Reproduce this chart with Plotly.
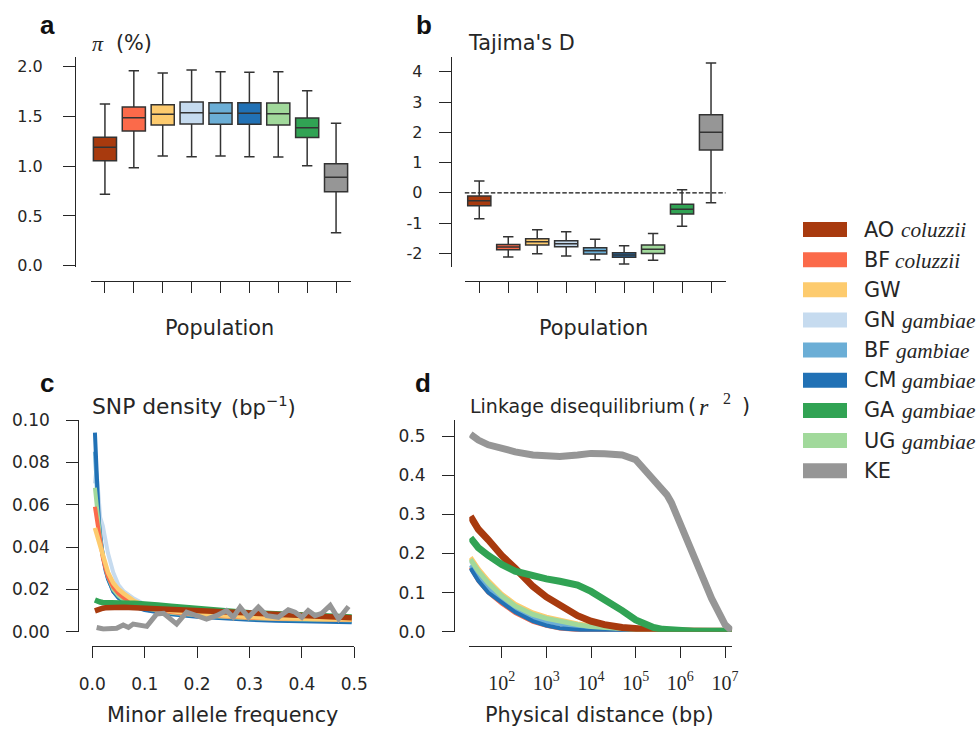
import plotly.graph_objects as go

W, H = 977, 731

# ---------------- data ----------------
pop_codes = ["AOcol", "BFcol", "GW", "GNgam", "BFgam", "CMgam", "GAgam", "UGgam", "KE"]
pop_prefix = ["AO", "BF", "GW", "GN", "BF", "CM", "GA", "UG", "KE"]
pop_species = ["coluzzii", "coluzzii", "", "gambiae", "gambiae", "gambiae", "gambiae", "gambiae", ""]
pop_colors = ["#a83a0e", "#fb6a4a", "#fdcb6e", "#c6dbef", "#6baed6", "#2171b5", "#31a354", "#a1d99b", "#969696"]
color_of = dict(zip(pop_codes, pop_colors))

# panel a/b box order
box_order = ["AOcol", "BFcol", "GW", "GNgam", "BFgam", "CMgam", "UGgam", "GAgam", "KE"]

pi_lower = [0.717, 0.985, 1.102, 1.095, 1.102, 1.095, 1.092, 1.005, 0.332]
pi_q1 = [1.055, 1.354, 1.414, 1.424, 1.421, 1.421, 1.414, 1.287, 0.744]
pi_median = [1.19, 1.487, 1.521, 1.538, 1.532, 1.532, 1.528, 1.387, 0.888]
pi_q3 = [1.29, 1.595, 1.618, 1.645, 1.638, 1.638, 1.635, 1.485, 1.025]
pi_upper = [1.625, 1.96, 1.937, 1.967, 1.95, 1.944, 1.95, 1.759, 1.431]

td_lower = [-0.855, -2.12, -2.01, -2.09, -2.21, -2.35, -2.23, -1.107, -0.327]
td_q1 = [-0.425, -1.88, -1.725, -1.78, -2.02, -2.13, -2.0, -0.70, 1.414]
td_median = [-0.26, -1.79, -1.615, -1.68, -1.91, -2.055, -1.865, -0.545, 2.0]
td_q3 = [-0.106, -1.71, -1.516, -1.58, -1.81, -1.98, -1.725, -0.38, 2.58]
td_upper = [0.39, -1.45, -1.22, -1.285, -1.535, -1.745, -1.34, 0.10, 4.29]

# panel c: SNP density vs minor allele frequency
maf = [0.005, 0.0075, 0.01, 0.0125, 0.015, 0.02, 0.025, 0.03, 0.04, 0.05, 0.06, 0.07,
       0.08, 0.1, 0.125, 0.15, 0.2, 0.25, 0.3, 0.35, 0.4, 0.45, 0.495]
sfs = {
    "GNgam": [0.070, 0.076, 0.070, 0.060, 0.054, 0.050, 0.043, 0.037, 0.028, 0.022, 0.019, 0.017,
              0.0155, 0.013, 0.0112, 0.0100, 0.0085, 0.0075, 0.0068, 0.0063, 0.0060, 0.0058, 0.0057],
    "BFgam": [0.085, 0.072, 0.058, 0.050, 0.044, 0.035, 0.029, 0.025, 0.019, 0.016, 0.0145, 0.013,
              0.012, 0.0105, 0.0094, 0.0085, 0.0074, 0.0066, 0.0060, 0.0055, 0.0051, 0.0049, 0.0048],
    "CMgam": [0.094, 0.080, 0.062, 0.052, 0.046, 0.036, 0.030, 0.025, 0.019, 0.016, 0.0142, 0.0128,
              0.0118, 0.0102, 0.0090, 0.0082, 0.0070, 0.0062, 0.0056, 0.0052, 0.0049, 0.0046, 0.0045],
    "UGgam": [0.068, 0.062, 0.055, 0.049, 0.044, 0.036, 0.030, 0.026, 0.020, 0.017, 0.015, 0.0135,
              0.0125, 0.011, 0.0098, 0.0090, 0.0078, 0.0070, 0.0064, 0.0060, 0.0057, 0.0055, 0.0054],
    "BFcol": [0.059, 0.055, 0.050, 0.046, 0.042, 0.035, 0.030, 0.026, 0.021, 0.018, 0.016, 0.0145,
              0.013, 0.0115, 0.0102, 0.0093, 0.0080, 0.0072, 0.0066, 0.0062, 0.0059, 0.0057, 0.0056],
    "GW":    [0.049, 0.047, 0.045, 0.043, 0.041, 0.036, 0.032, 0.028, 0.023, 0.020, 0.018, 0.016,
              0.0145, 0.0125, 0.0110, 0.0098, 0.0084, 0.0075, 0.0069, 0.0064, 0.0061, 0.0059, 0.0058],
    "GAgam": [0.0150, 0.0146, 0.0143, 0.0141, 0.0140, 0.0138, 0.0137, 0.0136, 0.0135, 0.0135, 0.0135, 0.0134,
              0.0134, 0.0132, 0.0126, 0.0120, 0.0108, 0.0098, 0.0090, 0.0085, 0.0080, 0.0075, 0.0070],
    "AOcol": [0.0098, 0.0101, 0.0104, 0.0106, 0.0108, 0.0111, 0.0113, 0.0114, 0.0115, 0.0116, 0.0115, 0.0114,
              0.0113, 0.0110, 0.0108, 0.0105, 0.0098, 0.0090, 0.0085, 0.0080, 0.0075, 0.0070, 0.0066],
}
ke_maf = [0.0083, 0.0211, 0.0465, 0.059, 0.069, 0.078, 0.104, 0.123, 0.136, 0.161, 0.180, 0.199,
          0.218, 0.237, 0.256, 0.269, 0.282, 0.298, 0.317, 0.333, 0.355, 0.374, 0.387, 0.400,
          0.412, 0.425, 0.438, 0.454, 0.470, 0.489]
ke_sfs = [0.0020, 0.0013, 0.0016, 0.0032, 0.0020, 0.0036, 0.0025, 0.0084, 0.0087, 0.0036, 0.0092, 0.0076,
          0.0060, 0.0076, 0.0100, 0.0068, 0.0116, 0.0068, 0.0116, 0.0076, 0.0068, 0.0103, 0.0092, 0.0068,
          0.0100, 0.0076, 0.0087, 0.0124, 0.0060, 0.0119]

# panel d: LD decay vs physical distance (bp)
dist = [20, 30, 50, 100, 200, 500, 1000, 2000, 5000, 10000, 20000, 50000, 100000, 160000,
        250000, 400000, 500000, 630000, 1000000, 2000000, 5000000, 10000000, 14000000]
ld = {
    "BFcol": [0.165, 0.130, 0.100, 0.072, 0.048, 0.025, 0.015, 0.008, 0.004, 0.002, 0.001, 0.0008,
              0.0006, 0.0005, 0.0005, 0.0004, 0.0004, 0.0004, 0.0004, 0.0004, 0.0004, 0.0004, 0.0004],
    "GNgam": [0.180, 0.150, 0.120, 0.088, 0.062, 0.041, 0.031, 0.024, 0.016, 0.012, 0.009, 0.006,
              0.004, 0.003, 0.002, 0.0015, 0.001, 0.001, 0.001, 0.001, 0.001, 0.001, 0.001],
    "BFgam": [0.170, 0.140, 0.110, 0.080, 0.056, 0.035, 0.025, 0.018, 0.011, 0.008, 0.006, 0.004,
              0.003, 0.002, 0.0015, 0.001, 0.001, 0.001, 0.001, 0.001, 0.001, 0.001, 0.001],
    "CMgam": [0.162, 0.130, 0.100, 0.075, 0.050, 0.027, 0.016, 0.009, 0.004, 0.002, 0.0015, 0.001,
              0.001, 0.001, 0.001, 0.001, 0.001, 0.001, 0.001, 0.001, 0.001, 0.001, 0.001],
    "GW":    [0.190, 0.160, 0.130, 0.096, 0.070, 0.048, 0.037, 0.029, 0.020, 0.015, 0.012, 0.009,
              0.006, 0.0045, 0.0035, 0.0025, 0.002, 0.0015, 0.001, 0.001, 0.001, 0.001, 0.001],
    "UGgam": [0.185, 0.155, 0.125, 0.092, 0.066, 0.044, 0.034, 0.026, 0.018, 0.013, 0.010, 0.007,
              0.005, 0.004, 0.003, 0.002, 0.0015, 0.001, 0.001, 0.001, 0.001, 0.001, 0.001],
    "AOcol": [0.295, 0.262, 0.235, 0.195, 0.162, 0.116, 0.089, 0.066, 0.041, 0.027, 0.018, 0.011,
              0.007, 0.005, 0.004, 0.003, 0.002, 0.002, 0.001, 0.001, 0.001, 0.001, 0.001],
    "GAgam": [0.240, 0.215, 0.195, 0.172, 0.155, 0.141, 0.135, 0.129, 0.119, 0.103, 0.084, 0.054,
              0.030, 0.019, 0.011, 0.006, 0.005, 0.004, 0.002, 0.001, 0.001, 0.001, 0.001],
    "KE":    [0.505, 0.490, 0.478, 0.468, 0.460, 0.452, 0.449, 0.448, 0.452, 0.456, 0.455, 0.452,
              0.440, 0.415, 0.388, 0.362, 0.350, 0.330, 0.275, 0.190, 0.085, 0.018, 0.003],
}

# ---------------- helpers ----------------
FONT = "DejaVu Sans"
SERIF = "Liberation Serif"
INK = "#262626"
def fx(p):
    return p / W
def fy(p):
    return 1 - p / H

fig = go.Figure()

# panels a and b: box plots
for i, code in enumerate(box_order):
    fig.add_trace(go.Box(
        x=[i], q1=[pi_q1[i]], median=[pi_median[i]], q3=[pi_q3[i]],
        lowerfence=[pi_lower[i]], upperfence=[pi_upper[i]],
        fillcolor=color_of[code], line=dict(color="#333333", width=1.5),
        width=0.8, whiskerwidth=0.45, boxpoints=False, showlegend=False,
        hoverinfo="skip", xaxis="x", yaxis="y"))
    fig.add_trace(go.Box(
        x=[i], q1=[td_q1[i]], median=[td_median[i]], q3=[td_q3[i]],
        lowerfence=[td_lower[i]], upperfence=[td_upper[i]],
        fillcolor=color_of[code], line=dict(color="#333333", width=1.5),
        width=0.8, whiskerwidth=0.45, boxpoints=False, showlegend=False,
        hoverinfo="skip", xaxis="x2", yaxis="y2"))

# panel c
c_order = ["GNgam", "BFgam", "CMgam", "UGgam", "BFcol", "GW", "GAgam", "AOcol"]
c_width = {"GNgam": 4, "BFgam": 4, "CMgam": 4, "UGgam": 4, "BFcol": 4, "GW": 4.5, "GAgam": 5.5, "AOcol": 5.5}
for code in c_order:
    fig.add_trace(go.Scatter(x=maf, y=sfs[code], mode="lines",
                             line=dict(color=color_of[code], width=c_width[code]),
                             showlegend=False, hoverinfo="skip", xaxis="x3", yaxis="y3"))
fig.add_trace(go.Scatter(x=ke_maf, y=ke_sfs, mode="lines",
                         line=dict(color=color_of["KE"], width=5),
                         showlegend=False, hoverinfo="skip", xaxis="x3", yaxis="y3"))

# panel d
d_order = ["BFcol", "GNgam", "BFgam", "CMgam", "GW", "UGgam", "AOcol", "GAgam", "KE"]
d_width = {"BFcol": 4, "GNgam": 4, "BFgam": 4, "CMgam": 4, "GW": 5, "UGgam": 5,
           "AOcol": 7, "GAgam": 7, "KE": 7}
for code in d_order:
    fig.add_trace(go.Scatter(x=dist, y=ld[code], mode="lines",
                             line=dict(color=color_of[code], width=d_width[code]),
                             showlegend=False, hoverinfo="skip", xaxis="x4", yaxis="y4"))

# ---------------- axes ----------------
def axis(**kw):
    base = dict(showline=True, linecolor=INK, linewidth=1.25, ticks="outside",
                tickcolor=INK, tickwidth=1.25, showgrid=False, zeroline=False,
                anchor="free", automargin=False,
                tickfont=dict(family=FONT, size=16, color=INK))
    base.update(kw)
    return base

fig.update_layout(
    xaxis=axis(domain=[fx(90.5), fx(350.5)], range=[-0.5, 8.5], position=fy(281),
               tickvals=list(range(9)), showticklabels=False, ticklen=11),
    yaxis=axis(domain=[fy(267), fy(57)], range=[-0.013, 2.097], position=fx(75),
               tickvals=[0, 0.5, 1.0, 1.5, 2.0], tickformat=".1f", ticklen=12,
               ticklabelstandoff=17),
    xaxis2=axis(domain=[fx(464.8), fx(725.5)], range=[-0.5, 8.5], position=fy(281),
                tickvals=list(range(9)), showticklabels=False, ticklen=11),
    yaxis2=axis(domain=[fy(267), fy(57)], range=[-2.45, 4.49], position=fx(450.7),
                tickvals=[-2, -1, 0, 1, 2, 3, 4], ticktext=["-2", "-1", "0", "1", "2", "3", "4"],
                ticklen=12, ticklabelstandoff=13),
    xaxis3=axis(domain=[fx(92.3), fx(354.3)], range=[0, 0.5], position=fy(645.7),
                tickvals=[0, 0.1, 0.2, 0.3, 0.4, 0.5], tickformat=".1f", ticklen=11,
                ticklabelstandoff=12, tickfont=dict(family=FONT, size=17, color=INK)),
    yaxis3=axis(domain=[fy(631.7), fy(420)], range=[0, 0.1], position=fx(78.3),
                tickvals=[0, 0.02, 0.04, 0.06, 0.08, 0.10], tickformat=".2f", ticklen=12,
                ticklabelstandoff=13, tickfont=dict(family=FONT, size=17, color=INK)),
    xaxis4=axis(type="log", domain=[fx(469.3), fx(732.3)], range=[1.275, 7.163],
                position=fy(645.7), tickvals=[1e2, 1e3, 1e4, 1e5, 1e6, 1e7],
                ticktext=["10<sup>%d</sup>" % k for k in range(2, 8)], ticklen=11,
                ticklabelstandoff=8,
                tickfont=dict(family=SERIF, size=20, color=INK)),
    yaxis4=axis(domain=[fy(631.7), fy(420)], range=[0, 0.5414], position=fx(454),
                tickvals=[0, 0.1, 0.2, 0.3, 0.4, 0.5], tickformat=".1f", ticklen=12,
                ticklabelstandoff=13, tickfont=dict(family=FONT, size=17, color=INK)),
)

# zero line in panel b
fig.add_shape(type="line", xref="x2 domain", yref="y2", x0=0, x1=1, y0=0, y1=0,
              line=dict(color="#111111", width=1.3, dash="4.5px,2px"), layer="below")

# ---------------- texts ----------------
ann = []
def text(x, y, s, size=20.8, family=FONT, xanchor="left", color=INK):
    ann.append(dict(x=fx(x), y=fy(y), xref="paper", yref="paper", text=s, showarrow=False,
                    xanchor=xanchor, yanchor="middle",
                    font=dict(family=family, size=size, color=color)))

for letter, lx, ly in [("a", 38, 25), ("b", 414, 25), ("c", 38, 383), ("d", 413, 383)]:
    text(lx, ly, "<b>%s</b>" % letter, size=26, family="Liberation Sans", color="#111111")

text(90, 43, "<i>π</i>", family=SERIF, size=22)
text(114, 43, "(%)")
text(466, 43, "Tajima's D")
text(90, 406, "SNP density", size=21.8)
text(229, 406, "(bp<sup>−1</sup>)", size=21)
text(468, 406, "Linkage disequilibrium", size=19)
text(686, 406, "(")
text(697, 407, "<i>r</i>", family=SERIF, size=24)
text(721, 399, "2", family=SERIF, size=16)
text(740, 406, ")")
text(219, 328, "Population", xanchor="center")
text(593, 328, "Population", xanchor="center")
text(222, 715, "Minor allele frequency", xanchor="center")
text(599, 715, "Physical distance (bp)", xanchor="center")

# legend
species_x = [899, 893, 0, 900, 894, 900, 900, 900, 0]
for i, code in enumerate(pop_codes):
    cy = 229.5 + 30.15 * i
    fig.add_shape(type="rect", xref="paper", yref="paper", x0=fx(803), x1=fx(847),
                  y0=fy(cy + 7.5), y1=fy(cy - 7.5), fillcolor=color_of[code],
                  line=dict(width=0), layer="above")
    text(862, cy, pop_prefix[i])
    if pop_species[i]:
        text(species_x[i], cy + 1, "<i>%s</i>" % pop_species[i], family=SERIF, size=21.3)

fig.update_layout(
    annotations=ann,
    width=W, height=H, margin=dict(l=0, r=0, t=0, b=0, autoexpand=False),
    paper_bgcolor="white", plot_bgcolor="white", showlegend=False,
    boxmode="overlay",
)

fig.write_html("out.html")
